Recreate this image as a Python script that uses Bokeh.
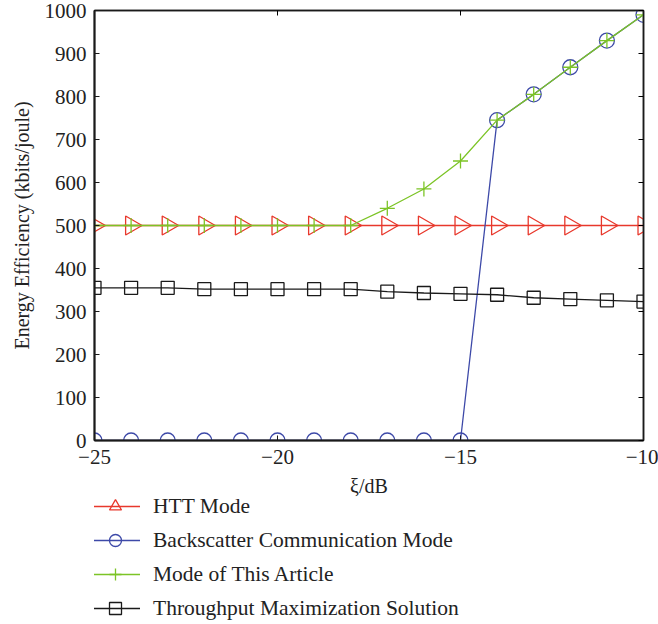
import numpy as np
from bokeh.plotting import figure
from bokeh.layouts import column
from bokeh.models import Range1d, LinearAxis, Legend, LegendItem, FixedTicker
from bokeh.embed import file_html
from bokeh.resources import INLINE

xi = [-25, -24, -23, -22, -21, -20, -19, -18, -17, -16, -15, -14, -13, -12, -11, -10]
htt = [500, 500, 500, 500, 500, 500, 500, 500, 500, 500, 500, 500, 500, 500, 500, 500]
backscatter = [0, 0, 0, 0, 0, 0, 0, 0, 0, 0, 0, 745, 805, 868, 930, 990]
article = [500, 500, 500, 500, 500, 500, 500, 500, 540, 585, 650, 745, 805, 868, 930, 990]
throughput = [355, 355, 355, 352, 352, 352, 352, 352, 346, 343, 341, 339, 332, 329, 326, 323]
series_names = ["HTT Mode", "Backscatter Communication Mode", "Mode of This Article",
                "Throughput Maximization Solution"]

x_ticks = [-25, -20, -15, -10]
y_ticks = [0, 100, 200, 300, 400, 500, 600, 700, 800, 900, 1000]

FONT = "Liberation Serif"
RED = "#e8382c"
BLUE = "#3d49a8"
GREEN = "#7cc426"
BLACK = "#1a1a1a"
TXT = "#222222"

MAIN_H = 505
p = figure(width=658, height=MAIN_H, x_range=Range1d(-25, -10), y_range=Range1d(0, 1000),
           output_backend="svg", toolbar_location=None,
           min_border_left=94, min_border_right=15, min_border_top=10,
           min_border_bottom=MAIN_H - 440,
           x_axis_label="ξ/dB", y_axis_label="Energy Efficiency (kbits/joule)")
p.grid.visible = False
p.outline_line_color = BLACK
p.outline_line_width = 1.5
p.background_fill_color = "white"
p.border_fill_color = "white"

for ax, ticks in ((p.xaxis[0], x_ticks), (p.yaxis[0], y_ticks)):
    ax.ticker = FixedTicker(ticks=ticks)
    ax.major_label_overrides = {t: (str(t).replace("-", "\u2212")) for t in ticks}
    ax.major_tick_in = 5
    ax.major_tick_out = 0
    ax.minor_tick_line_color = None
    ax.axis_line_color = BLACK
    ax.axis_line_width = 2
    ax.major_tick_line_color = BLACK
    ax.major_label_text_font = FONT
    ax.major_label_text_font_size = "21px"
    ax.major_label_text_color = TXT
    ax.axis_label_text_font = FONT
    ax.axis_label_text_font_size = "20px"
    ax.axis_label_text_font_style = "normal"
    ax.axis_label_text_color = TXT
p.xaxis.major_label_standoff = 9
p.yaxis.major_label_standoff = 8
p.xaxis.axis_label_standoff = 8
p.yaxis.axis_label_standoff = 9

for loc, ticks in (("right", y_ticks), ("above", x_ticks)):
    ax = LinearAxis(ticker=FixedTicker(ticks=ticks), major_tick_in=5, major_tick_out=0,
                    minor_tick_line_color=None, major_label_text_font_size="1px",
                    major_label_text_color=None,
                    major_label_standoff=0, axis_line_color=BLACK, axis_line_width=1.5)
    p.add_layout(ax, loc)

styles = [
    dict(marker="triangle", angle=-np.pi / 2, size=19, color=RED),
    dict(marker="circle", angle=0, size=15, color=BLUE),
    dict(marker="cross", angle=0, size=15, color=GREEN),
    dict(marker="square", angle=0, size=13, color=BLACK),
]
series = [htt, backscatter, article, throughput]

for ys, st in zip(series, styles):
    p.line(xi, ys, line_color=st["color"], line_width=1.3)
    p.scatter(xi, ys, marker=st["marker"], angle=st["angle"], size=st["size"],
              line_color=st["color"], fill_color=None, line_width=1.3)

# legend panel below the chart (series drawn off-view, only their legend glyphs show)
LEG_TOP = 490
lf = figure(width=658, height=624 - LEG_TOP, x_range=Range1d(0, 1), y_range=Range1d(0, 1),
            output_backend="svg", toolbar_location=None, min_border=0,
            x_axis_type=None, y_axis_type=None)
lf.styles = {"margin-top": f"{LEG_TOP - MAIN_H}px"}
lf.grid.visible = False
lf.outline_line_color = None
lf.border_fill_color = None
lf.background_fill_color = None
items = []
for name, ys, st in zip(series_names, series, styles):
    lr = lf.line(xi, ys, line_color=st["color"], line_width=1.3)
    mr = lf.scatter(xi, ys, marker=st["marker"],
                    line_color=st["color"], fill_color=None, line_width=1.3)
    items.append(LegendItem(label=name, renderers=[lr, mr]))

legend = Legend(items=items, location=(-4, 1), orientation="vertical")
legend.border_line_color = None
legend.background_fill_alpha = 0
legend.padding = 0
legend.margin = 0
legend.glyph_width = 50
legend.glyph_height = 30
legend.label_height = 30
legend.spacing = 4
legend.label_standoff = 13
legend.label_text_font = FONT
legend.label_text_font_size = "21.5px"
legend.label_text_color = TXT
lf.add_layout(legend, "center")

open("out.html", "w").write(file_html(column(p, lf, spacing=0), INLINE))
